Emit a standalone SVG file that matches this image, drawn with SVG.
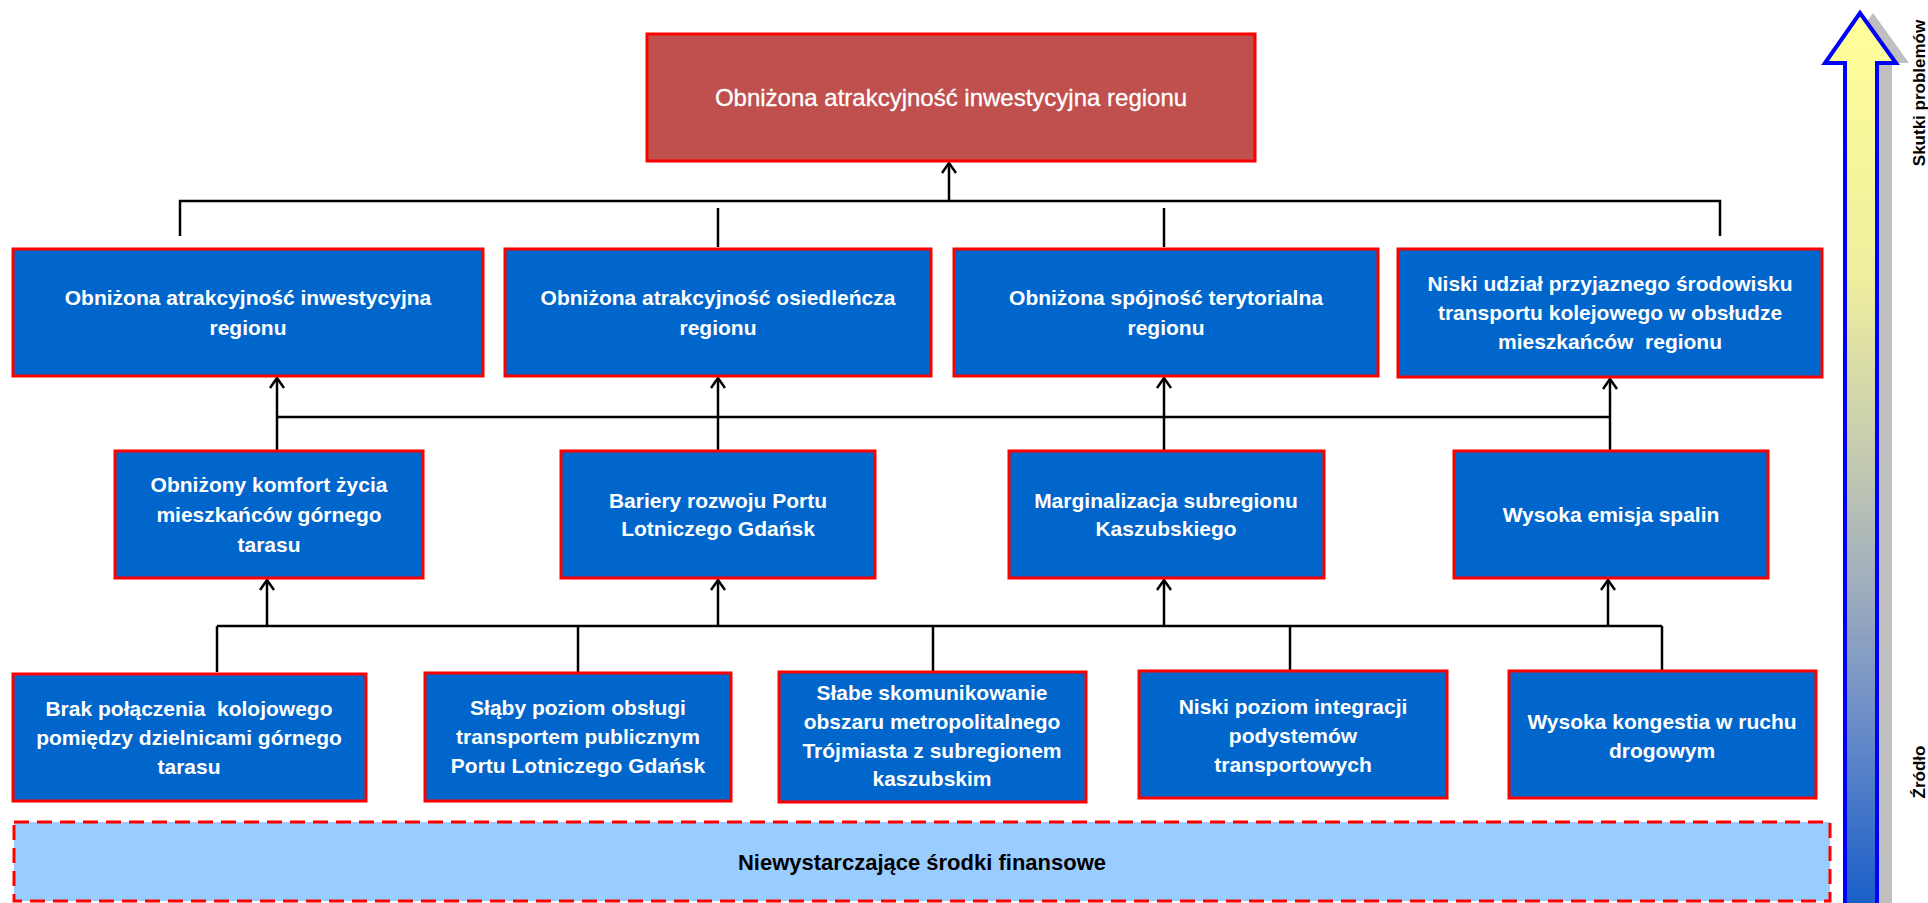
<svg xmlns="http://www.w3.org/2000/svg" width="1928" height="903" viewBox="0 0 1928 903">
<style>
.bx{fill:#0066CC;stroke:#FF0000;stroke-width:3}
.t{font-family:"Liberation Sans",Arial,sans-serif;font-weight:bold;font-size:21px;fill:#FFFFFF;text-anchor:middle}
.tt{font-family:"Liberation Sans",Arial,sans-serif;font-size:24px;fill:#FFFFFF;text-anchor:middle;stroke:#FFFFFF;stroke-width:0.3}
.bt{font-family:"Liberation Sans",Arial,sans-serif;font-weight:bold;font-size:22px;fill:#000000;text-anchor:middle}
.side{font-family:"Liberation Sans",Arial,sans-serif;font-weight:bold;font-size:17px;fill:#000000;text-anchor:middle}
.ln{fill:none;stroke:#000000;stroke-width:2.5}
.ar{fill:none;stroke:#000000;stroke-width:2.5;marker-end:url(#ah)}
</style>
<defs>
<marker id="ah" viewBox="0 0 12 16" refX="11" refY="8" markerWidth="12" markerHeight="16" markerUnits="userSpaceOnUse" orient="auto">
<path d="M1,1 L11,8 L1,15" fill="none" stroke="#000000" stroke-width="2.5"/>
</marker>
<linearGradient id="grad" gradientUnits="userSpaceOnUse" x1="0" y1="13" x2="0" y2="903">
<stop offset="0" stop-color="#FFFF99"/>
<stop offset="0.3" stop-color="#EEEE9E"/>
<stop offset="0.5" stop-color="#C4CAB0"/>
<stop offset="0.65" stop-color="#9EACBE"/>
<stop offset="0.8" stop-color="#6A8CC8"/>
<stop offset="1" stop-color="#1A5FC8"/>
</linearGradient>
</defs>

<g id="side-arrow">
<path d="M1873,13 L1909,63 L1892,63 L1892,905 L1858,905 L1858,63 L1838,63 Z" fill="#BFBFBF"/>
<path d="M1860,13 L1896,63 L1877,63 L1877,905 L1845,905 L1845,63 L1825,63 Z" fill="url(#grad)" stroke="#0000FF" stroke-width="4"/>
<text class="side" transform="translate(1925,93) rotate(-90)">Skutki problemów</text>
<text class="side" transform="translate(1925,772) rotate(-90)">Źródło</text>
</g>

<g id="connectors">
<polyline class="ln" points="180,236 180,201 1720,201 1720,236"/>
<line class="ar" x1="949" y1="201" x2="949" y2="163"/>
<line class="ln" x1="718" y1="208" x2="718" y2="247"/>
<line class="ln" x1="1164" y1="208" x2="1164" y2="247"/>
<line class="ln" x1="277" y1="417" x2="1610" y2="417"/>
<line class="ar" x1="277" y1="450" x2="277" y2="378"/>
<line class="ar" x1="718" y1="450" x2="718" y2="378"/>
<line class="ar" x1="1164" y1="450" x2="1164" y2="378"/>
<line class="ar" x1="1610" y1="450" x2="1610" y2="379"/>
<line class="ln" x1="217" y1="626" x2="1662" y2="626"/>
<line class="ar" x1="267" y1="626" x2="267" y2="580"/>
<line class="ar" x1="718" y1="626" x2="718" y2="580"/>
<line class="ar" x1="1164" y1="626" x2="1164" y2="580"/>
<line class="ar" x1="1608" y1="626" x2="1608" y2="580"/>
<line class="ln" x1="217" y1="626" x2="217" y2="672"/>
<line class="ln" x1="578" y1="626" x2="578" y2="672"/>
<line class="ln" x1="933" y1="626" x2="933" y2="671"/>
<line class="ln" x1="1290" y1="626" x2="1290" y2="670"/>
<line class="ln" x1="1662" y1="626" x2="1662" y2="671"/>
</g>

<g id="top">
<rect x="647" y="34" width="608" height="127" fill="#C0504D" stroke="#FF0000" stroke-width="3"/>
<text class="tt" x="951" y="106">Obniżona atrakcyjność inwestycyjna regionu</text>
</g>

<g id="b1">
<rect class="bx" x="13" y="249" width="470" height="127"/>
<text class="t" x="248" y="305"><tspan x="248">Obniżona atrakcyjność inwestycyjna</tspan><tspan x="248" dy="30">regionu</tspan></text>
</g>
<g id="b2">
<rect class="bx" x="505" y="249" width="426" height="127"/>
<text class="t" x="718" y="305"><tspan x="718">Obniżona atrakcyjność osiedleńcza</tspan><tspan x="718" dy="30">regionu</tspan></text>
</g>
<g id="b3">
<rect class="bx" x="954" y="249" width="424" height="127"/>
<text class="t" x="1166" y="305"><tspan x="1166">Obniżona spójność terytorialna</tspan><tspan x="1166" dy="30">regionu</tspan></text>
</g>
<g id="b4">
<rect class="bx" x="1398" y="249" width="424" height="128"/>
<text class="t" x="1610" y="291"><tspan x="1610">Niski udział przyjaznego środowisku</tspan><tspan x="1610" dy="29">transportu kolejowego w obsłudze</tspan><tspan x="1610" dy="29">mieszkańców&#160; regionu</tspan></text>
</g>

<g id="c1">
<rect class="bx" x="115" y="451" width="308" height="127"/>
<text class="t" x="269" y="492"><tspan x="269">Obniżony komfort życia</tspan><tspan x="269" dy="30">mieszkańców górnego</tspan><tspan x="269" dy="30">tarasu</tspan></text>
</g>
<g id="c2">
<rect class="bx" x="561" y="451" width="314" height="127"/>
<text class="t" x="718" y="508"><tspan x="718">Bariery rozwoju Portu</tspan><tspan x="718" dy="28">Lotniczego Gdańsk</tspan></text>
</g>
<g id="c3">
<rect class="bx" x="1009" y="451" width="315" height="127"/>
<text class="t" x="1166" y="508"><tspan x="1166">Marginalizacja subregionu</tspan><tspan x="1166" dy="28">Kaszubskiego</tspan></text>
</g>
<g id="c4">
<rect class="bx" x="1454" y="451" width="314" height="127"/>
<text class="t" x="1611" y="522">Wysoka emisja spalin</text>
</g>

<g id="d1">
<rect class="bx" x="13" y="674" width="353" height="127"/>
<text class="t" x="189" y="716"><tspan x="189">Brak połączenia&#160; kolojowego</tspan><tspan x="189" dy="29">pomiędzy dzielnicami górnego</tspan><tspan x="189" dy="29">tarasu</tspan></text>
</g>
<g id="d2">
<rect class="bx" x="425" y="673" width="306" height="128"/>
<text class="t" x="578" y="715"><tspan x="578">Słąby poziom obsługi</tspan><tspan x="578" dy="29">transportem publicznym</tspan><tspan x="578" dy="29">Portu Lotniczego Gdańsk</tspan></text>
</g>
<g id="d3">
<rect class="bx" x="779" y="672" width="307" height="130"/>
<text class="t" x="932" y="700"><tspan x="932">Słabe skomunikowanie</tspan><tspan x="932" dy="29">obszaru metropolitalnego</tspan><tspan x="932" dy="29">Trójmiasta z subregionem</tspan><tspan x="932" dy="28">kaszubskim</tspan></text>
</g>
<g id="d4">
<rect class="bx" x="1139" y="671" width="308" height="127"/>
<text class="t" x="1293" y="714"><tspan x="1293">Niski poziom integracji</tspan><tspan x="1293" dy="29">podystemów</tspan><tspan x="1293" dy="29">transportowych</tspan></text>
</g>
<g id="d5">
<rect class="bx" x="1509" y="671" width="307" height="127"/>
<text class="t" x="1662" y="729"><tspan x="1662">Wysoka kongestia w ruchu</tspan><tspan x="1662" dy="29">drogowym</tspan></text>
</g>

<g id="bottom">
<rect x="14" y="822" width="1816" height="79" fill="#99CCFF" stroke="#FF0000" stroke-width="3" stroke-dasharray="15,8"/>
<text class="bt" x="922" y="870">Niewystarczające środki finansowe</text>
</g>
</svg>
